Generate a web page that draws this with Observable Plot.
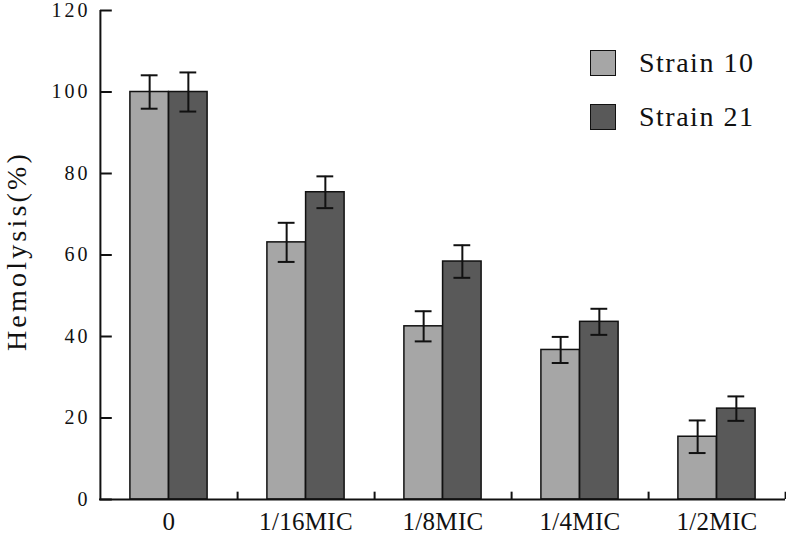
<!DOCTYPE html>
<html><head><meta charset="utf-8">
<script src="https://cdn.jsdelivr.net/npm/d3@7"></script>
<script src="https://cdn.jsdelivr.net/npm/@observablehq/plot@0.6"></script>
<style>
body{margin:0;background:#fff;}
#wrap{position:relative;width:786px;height:536px;font-family:"Liberation Serif",serif;}
.legend{position:absolute;left:590px;top:49px;}
.item{display:flex;align-items:center;height:27px;margin-bottom:27px;}
.sw{width:26px;height:26px;border:1.5px solid #111;box-sizing:border-box;margin-right:23px;}
.lab{font-size:28px;letter-spacing:1.5px;color:#111;white-space:nowrap;}
</style></head><body><div id="wrap"></div>
<script>
const categories = ["0", "1/16MIC", "1/8MIC", "1/4MIC", "1/2MIC"];
const strains = ["Strain 10", "Strain 21"];
const strain10 = [100, 63.1, 42.5, 36.7, 15.4];
const strain10Err = [4.1, 4.8, 3.7, 3.2, 4.0];
const strain21 = [100, 75.4, 58.4, 43.6, 22.3];
const strain21Err = [4.8, 3.9, 4.0, 3.2, 3.0];
const yTicks = [0, 20, 40, 60, 80, 100, 120];
const yTitle = "Hemolysis(%)";
const colors = ["#a6a6a6", "#595959"];

const W = 786, H = 536, mL = 99, mR = 1, mT = 10, mB = 37;
const bw = (W - mL - mR) / categories.length;
const barW = 38.7;
const capW = 17;

const rows10 = categories.map((c, i) => ({cat: c, strain: strains[0], v: strain10[i], e: strain10Err[i]}));
const rows21 = categories.map((c, i) => ({cat: c, strain: strains[1], v: strain21[i], e: strain21Err[i]}));

const c10 = bw / 2 - barW / 2;
const c21 = bw / 2 + barW / 2;

const ink = "#111";

const chart = Plot.plot({
  width: W, height: H,
  marginLeft: mL, marginRight: mR, marginTop: mT, marginBottom: mB,
  style: {fontFamily: "Liberation Serif, serif", fontSize: "22px", color: ink, background: "#fff", overflow: "visible"},
  x: {domain: categories, padding: 0, axis: null},
  y: {domain: [0, 120], axis: null},
  color: {domain: strains, range: colors},
  marks: [
    Plot.barY(rows10, {x: "cat", y: "v", fill: "strain", stroke: ink, strokeWidth: 1.5,
      insetLeft: bw / 2 - barW, insetRight: bw / 2}),
    Plot.barY(rows21, {x: "cat", y: "v", fill: "strain", stroke: ink, strokeWidth: 1.5,
      insetLeft: bw / 2, insetRight: bw / 2 - barW}),
    Plot.ruleX(rows10, {x: "cat", y1: d => d.v - d.e, y2: d => d.v + d.e, dx: -barW / 2, stroke: ink, strokeWidth: 2}),
    Plot.ruleX(rows21, {x: "cat", y1: d => d.v - d.e, y2: d => d.v + d.e, dx: barW / 2, stroke: ink, strokeWidth: 2}),
    Plot.tickY(rows10, {x: "cat", y: d => d.v + d.e, stroke: ink, strokeWidth: 2, insetLeft: c10 - capW / 2, insetRight: bw - c10 - capW / 2}),
    Plot.tickY(rows10, {x: "cat", y: d => d.v - d.e, stroke: ink, strokeWidth: 2, insetLeft: c10 - capW / 2, insetRight: bw - c10 - capW / 2}),
    Plot.tickY(rows21, {x: "cat", y: d => d.v + d.e, stroke: ink, strokeWidth: 2, insetLeft: c21 - capW / 2, insetRight: bw - c21 - capW / 2}),
    Plot.tickY(rows21, {x: "cat", y: d => d.v - d.e, stroke: ink, strokeWidth: 2, insetLeft: c21 - capW / 2, insetRight: bw - c21 - capW / 2}),
    Plot.ruleY([0], {stroke: ink, strokeWidth: 2}),
    Plot.ruleX([categories[0]], {dx: -bw / 2, stroke: ink, strokeWidth: 2}),
    Plot.tickY(yTicks, {x: () => categories[0], y: d => d, stroke: ink, strokeWidth: 2, insetRight: bw - 12}),
    Plot.ruleX(categories, {x: d => d, y1: 0, y2: 1.8, dx: bw / 2, stroke: ink, strokeWidth: 2}),
    Plot.axisY({ticks: yTicks, tickSize: 0, tickPadding: 9, fontSize: 20, label: null}),
    Plot.axisX({tickSize: 0, tickPadding: 13, fontSize: 25, label: null})
  ]
});

const svg = d3.select(chart);
const axisTexts = (prefix) => svg.selectAll("g")
  .filter(function () { return (this.getAttribute("aria-label") || "").startsWith(prefix); })
  .selectAll("text");
axisTexts("x-axis").style("letter-spacing", "0.3px");
axisTexts("y-axis").style("letter-spacing", "3px");

svg.append("text")
  .attr("transform", "translate(25.5,251) rotate(-90)")
  .attr("text-anchor", "middle")
  .attr("fill", ink)
  .style("font-family", "Liberation Serif, serif")
  .style("font-size", "28px")
  .style("letter-spacing", "3.2px")
  .text(yTitle);

const wrap = document.getElementById("wrap");
wrap.appendChild(chart);

const legend = d3.select(wrap).append("div").attr("class", "legend");
strains.forEach((s, i) => {
  const it = legend.append("div").attr("class", "item");
  it.append("div").attr("class", "sw").style("background", colors[i]);
  it.append("span").attr("class", "lab").text(s);
});
</script>
</body></html>
